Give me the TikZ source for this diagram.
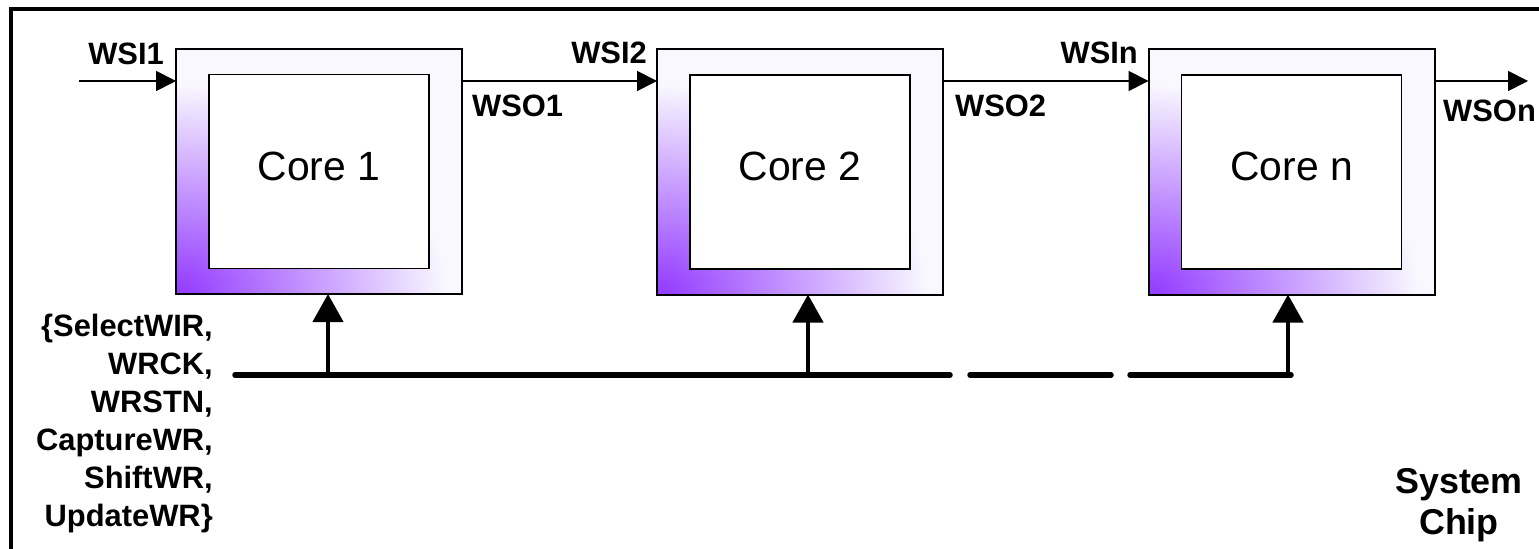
\documentclass[tikz,border=0pt]{standalone}
\usepackage{fontspec}
\setmainfont{Liberation Sans}
\usetikzlibrary{arrows.meta}

\definecolor{wrapdeep}{RGB}{150,64,255}
\definecolor{wrappale}{RGB}{249,248,255}
% glow that spreads from the lower left corner of each wrapper;
% it fades out at half the radius of the shaded ellipse
\pgfdeclareradialshading{wrapglow}{\pgfpoint{0bp}{0bp}}{%
  color(0bp)=(wrapdeep); color(0.5bp)=(wrapdeep);
  color(12.5bp)=(wrappale); color(50bp)=(wrappale)}

\begin{document}
\begin{tikzpicture}[x=1bp,y=-1bp,
  wrapper/.style={draw, fill=wrappale, line width=2bp, minimum width=286bp,
    minimum height=245bp, inner sep=0pt, outer sep=0pt,
    path picture={\shade[shading=wrapglow] (path picture bounding box.south west)
      ellipse [x radius=540bp, y radius=420bp];}},
  core/.style={draw, fill=white, line width=1.5bp, minimum width=220bp,
    minimum height=194bp, inner sep=0pt, outer sep=0pt,
    font=\fontsize{41}{41}\selectfont, text height=24bp, text depth=6bp},
  sig/.style={line width=1.8bp, -{Triangle[length=20bp,width=20bp]}},
  tap/.style={line width=4.5bp, -{Triangle[length=28bp,width=30bp]}},
  bus/.style={line width=5.5bp, line cap=round},
  lbl/.style={font=\bfseries\fontsize{31}{38}\selectfont, inner sep=0pt},
]
\useasboundingbox (0,0) rectangle (1539,549);

% system chip outline (continues past the right and bottom edges)
\draw[line width=3.5bp] (11,9) rectangle (1570,580);

% wrapped cores
\node[wrapper] (wrap1) at (319,171.5) {};
\node[core] (core1) at (wrap1.center) {Core 1};
\node[wrapper] (wrap2) at (800,172) {};
\node[core] (core2) at (wrap2.center) {Core 2};
\node[wrapper] (wrapn) at (1291.5,172) {};
\node[core] (coren) at (wrapn.center) {Core n};

% serial chain WSI -> WSO
\coordinate (in1) at (79,81);
\coordinate (outn) at (1528,81);
\draw[sig] (in1) -- (in1 -| wrap1.west);
\draw[sig] (wrap1.east |- in1) -- (in1 -| wrap2.west);
\draw[sig] (wrap2.east |- in1) -- (in1 -| wrapn.west);
\draw[sig] (wrapn.east |- in1) -- (outn);

\node[lbl, anchor=base east] (lwsi1) at (164,65) {WSI1};
\node[lbl, anchor=base east] (lwsi2) at (647,64) {WSI2};
\node[lbl, anchor=base west] (lwso1) at (472,117) {WSO1};
\node[lbl, anchor=base east] (lwsin) at (1138,64) {WSIn};
\node[lbl, anchor=base west] (lwso2) at (955,117) {WSO2};
\node[lbl, anchor=base west] (lwson) at (1443,122) {WSOn};

% shared control bus
\coordinate (bus0) at (235,375);
\coordinate (gapAin) at (950,375);
\coordinate (gapAout) at (970,375);
\coordinate (gapBin) at (1111,375);
\coordinate (gapBout) at (1130,375);
\coordinate (busend) at (1291,375);
\coordinate (tap1) at (328,375);
\coordinate (tap2) at (808,375);
\coordinate (tapn) at (1288,375);

\draw[bus] (bus0) -- (gapAin);
\draw[bus] (gapAout) -- (gapBin);
\draw[bus] (gapBout) -- (busend);

\draw[tap] (tap1) -- (tap1 |- wrap1.south);
\draw[tap] (tap2) -- (tap2 |- wrap2.south);
\draw[tap] (tapn) -- (tapn |- wrapn.south);

% control signals; the base anchor sits on the last line
\node[lbl, align=right, anchor=base east] (ctrl) at (213,526)
  {\{SelectWIR,\\WRCK,\\WRSTN,\\CaptureWR,\\ShiftWR,\\UpdateWR\}};

\node[font=\bfseries\fontsize{36}{41}\selectfont, align=center, anchor=base,
  inner sep=0pt] (chip) at (1459,534) {System\\Chip};
\end{tikzpicture}
\end{document}
